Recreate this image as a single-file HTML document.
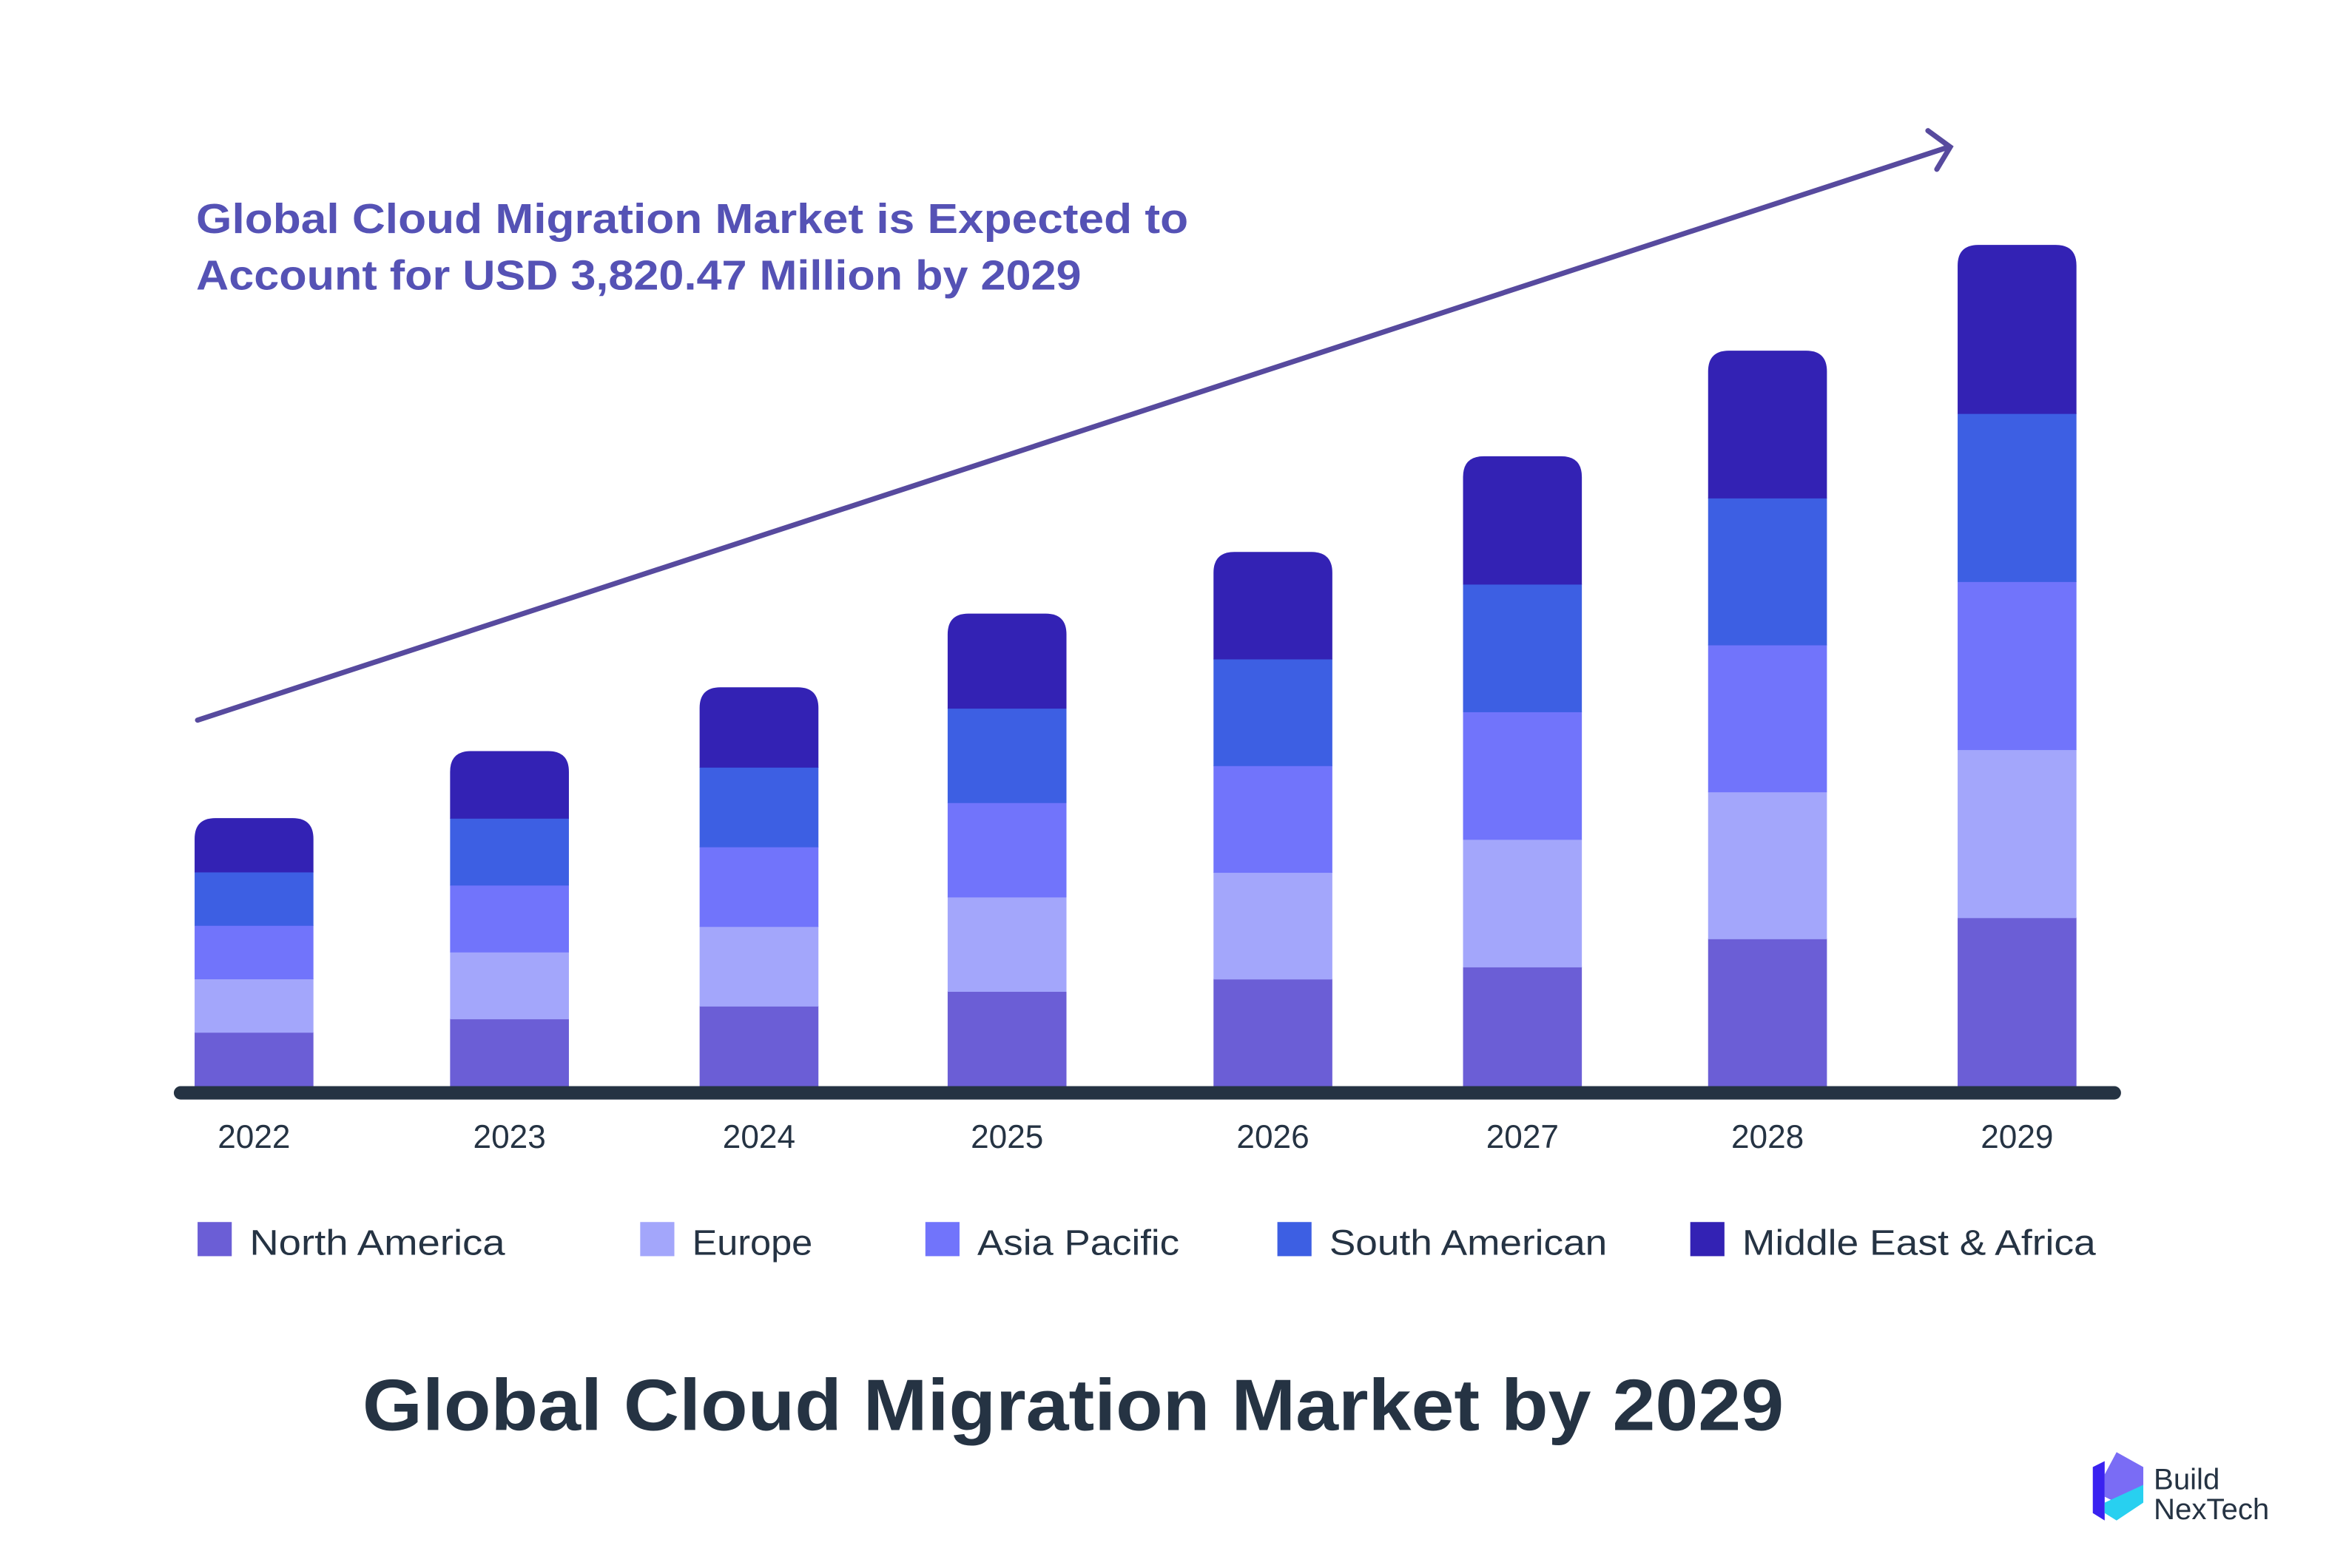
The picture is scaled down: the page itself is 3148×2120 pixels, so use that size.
<!DOCTYPE html>
<html><head><meta charset="utf-8"><style>
html,body{margin:0;padding:0;background:#fff;}
svg{display:block;}
text{font-family:"Liberation Sans",sans-serif;}
</style></head><body>
<svg id="chart" width="3148" height="2120" viewBox="0 0 1568 1056" xmlns="http://www.w3.org/2000/svg">
<rect width="1568" height="1056" fill="#fff"/>
<g fill="#5552b5" font-size="28" font-weight="bold">
<text x="132" y="157" textLength="668" lengthAdjust="spacingAndGlyphs">Global Cloud Migration Market is Expected to</text>
<text x="132" y="195" textLength="596" lengthAdjust="spacingAndGlyphs">Account for USD 3,820.47 Million by 2029</text>
</g>
<g stroke="#574a9e" stroke-width="3.5" fill="none" stroke-linecap="round">
<line x1="133" y1="485" x2="1312" y2="99"/>
<polyline points="1298,88 1313,99 1304,114"/>
</g>
<g id="bars"></g>
<rect x="117" y="731.5" width="1311" height="9" rx="4.5" fill="#253343"/>
<g id="xlabels" fill="#253343" font-size="22" text-anchor="middle"></g>
<g id="legend" fill="#253343" font-size="24"></g>
<text x="244" y="963" textLength="957" lengthAdjust="spacingAndGlyphs" font-size="49" font-weight="bold" fill="#253343">Global Cloud Migration Market by 2029</text>
<g>
<polygon points="1425,978 1443,988 1443,1002 1425,1012 1417,1008 1417,993" fill="#7a6cf5"/>
<polygon points="1409,988 1417,984 1417,1024 1409,1019" fill="#3a22f0"/>
<polygon points="1417,1012 1443,1000 1443,1012 1425,1024 1417,1019" fill="#28d0f0"/>
<text x="1450" y="1003" font-size="20" fill="#253343">Build</text>
<text x="1450" y="1023" font-size="20" fill="#253343">NexTech</text>
</g>
</svg>
<script>
const years = ['2022','2023','2024','2025','2026','2027','2028','2029'];
const northAmerica = [243, 304, 362, 429, 485, 540, 668, 764];
const europe       = [243, 304, 362, 429, 485, 580, 668, 764];
const asiaPacific  = [243, 304, 362, 429, 485, 580, 668, 764];
const southAmerica = [243, 304, 362, 429, 485, 580, 668, 764];
const middleEast   = [243, 304, 362, 429, 485, 580, 668, 765];
const seriesNames = ['North America','Europe','Asia Pacific','South American','Middle East & Africa'];
const colors = ['#6b5ed6','#a3a6fb','#7174fb','#3d5fe3','#3322b4'];
const series = [northAmerica, europe, asiaPacific, southAmerica, middleEast];
const NS='http://www.w3.org/2000/svg';
const baseY=731, pxPerUnit=566/3820.47, barW=80;
const centers=[171,343,511,678,857,1025,1190,1358];
function xScale(i){return centers[i];}
function yLen(v){return v*pxPerUnit;}
const gb=document.getElementById('bars');
years.forEach((yr,i)=>{
  let y=baseY;
  series.forEach((s,k)=>{
    const h=yLen(s[i]);
    const x=xScale(i)-barW/2;
    let el;
    if(k===series.length-1){
      const r=14, top=y-h;
      el=document.createElementNS(NS,'path');
      el.setAttribute('d',`M${x},${y+0.5}V${top+r}Q${x},${top} ${x+r},${top}H${x+barW-r}Q${x+barW},${top} ${x+barW},${top+r}V${y+0.5}Z`);
    } else {
      el=document.createElementNS(NS,'rect');
      el.setAttribute('x',x);el.setAttribute('y',y-h);el.setAttribute('width',barW);el.setAttribute('height',h+0.5);
    }
    el.setAttribute('fill',colors[k]);
    
    
    gb.appendChild(el);
    y-=h;
  });
  const t=document.createElementNS(NS,'text');
  t.setAttribute('x',xScale(i));t.setAttribute('y',773);t.textContent=yr;
  
  
  document.getElementById('xlabels').appendChild(t);
});
const lx=[133,431,623,860,1138];
const lw=[172,81,136,187,238];
const lg=document.getElementById('legend');
seriesNames.forEach((n,k)=>{
  const g=document.createElementNS(NS,'g');
  
  
  const r=document.createElementNS(NS,'rect');
  r.setAttribute('x',lx[k]);r.setAttribute('y',823);r.setAttribute('width',23);r.setAttribute('height',23);r.setAttribute('fill',colors[k]);
  const t=document.createElementNS(NS,'text');
  t.setAttribute('x',lx[k]+35);t.setAttribute('y',845);t.textContent=n;
  t.setAttribute('textLength',lw[k]);t.setAttribute('lengthAdjust','spacingAndGlyphs');
  g.appendChild(r);g.appendChild(t);lg.appendChild(g);
});
</script>
</body></html>
